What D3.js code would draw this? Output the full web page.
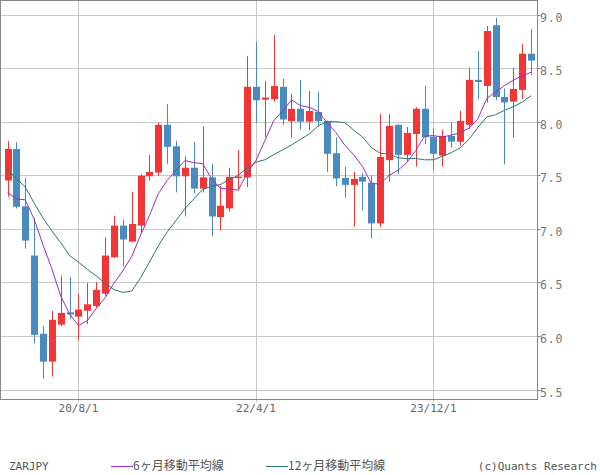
<!DOCTYPE html>
<html><head><meta charset="utf-8">
<script src="https://cdn.jsdelivr.net/npm/d3@7"></script>
<style>body{margin:0;background:#fff}svg{display:block}</style>
</head><body><svg id="c" width="600" height="475"></svg>
<script>
const months = ["19/12",
 "20/1","20/2","20/3","20/4","20/5","20/6","20/7","20/8","20/9","20/10","20/11","20/12",
 "21/1","21/2","21/3","21/4","21/5","21/6","21/7","21/8","21/9","21/10","21/11","21/12",
 "22/1","22/2","22/3","22/4","22/5","22/6","22/7","22/8","22/9","22/10","22/11","22/12",
 "23/1","23/2","23/3","23/4","23/5","23/6","23/7","23/8","23/9","23/10","23/11","23/12",
 "24/1","24/2","24/3","24/4","24/5","24/6","24/7","24/8","24/9","24/10","24/11"];
const openV = [7.45,7.745,7.21,6.75,6.02,5.76,6.105,6.22,6.18,6.235,6.28,6.395,
 6.735,7.03,6.88,7.03,7.49,7.525,7.97,7.77,7.49,7.57,7.375,7.48,
 7.11,7.19,7.475,7.48,8.325,8.205,8.21,8.325,8.005,8.12,8.00,8.09,
 8.005,7.705,7.475,7.41,7.485,7.43,7.05,7.64,7.97,7.69,7.885,8.12,
 7.86,7.683,7.867,7.813,7.97,8.39,8.333,8.90,8.23,8.187,8.296,8.634];
const highV = [7.82,7.81,7.475,7.10,6.09,6.235,6.565,6.55,6.39,6.495,6.50,6.92,
 7.12,7.085,7.345,7.51,7.69,7.99,8.165,7.82,7.675,7.81,7.955,7.605,
 7.40,7.57,7.735,8.61,8.745,8.38,8.81,8.40,8.26,8.39,8.285,8.28,
 8.01,7.855,7.58,7.53,7.52,7.50,8.07,8.07,7.975,7.95,8.135,8.333,
 7.94,7.923,7.99,8.10,8.50,8.66,8.893,8.97,8.31,8.50,8.725,8.865];
const lowV = [7.30,7.19,6.815,5.93,5.60,5.62,6.09,6.16,5.96,6.11,6.265,6.375,
 6.73,6.65,6.875,6.97,7.45,7.495,7.605,7.34,7.115,7.33,7.34,6.93,
 6.985,7.16,7.36,7.39,7.99,7.857,8.187,7.97,7.85,7.925,7.92,7.955,
 7.53,7.395,7.29,7.02,7.17,6.91,7.015,7.44,7.51,7.627,7.58,7.79,
 7.55,7.58,7.757,7.776,7.93,8.21,8.177,8.20,7.60,7.85,8.21,8.436];
const closeV = [7.745,7.205,6.89,6.01,5.76,6.15,6.215,6.20,6.245,6.295,6.43,6.75,
 7.03,6.90,7.045,7.495,7.53,7.97,7.765,7.49,7.57,7.375,7.48,7.115,
 7.215,7.485,7.487,8.325,8.20,8.225,8.333,8.02,8.12,8.00,8.10,8.005,
 7.70,7.47,7.41,7.465,7.44,7.05,7.67,7.96,7.69,7.895,8.12,7.855,
 7.70,7.867,7.813,8.007,8.39,8.37,8.846,8.23,8.18,8.305,8.634,8.57];
const ma6 = [7.34,7.28,7.27,7.09,6.85,6.627,6.372,6.204,6.097,6.144,6.256,6.356,
 6.492,6.608,6.742,6.942,7.125,7.328,7.451,7.549,7.637,7.617,7.608,7.466,
 7.374,7.373,7.360,7.518,7.638,7.823,8.009,8.098,8.204,8.150,8.133,8.096,
 7.991,7.899,7.781,7.692,7.582,7.423,7.418,7.499,7.546,7.618,7.731,7.865,
 7.870,7.855,7.875,7.894,7.939,8.025,8.216,8.276,8.337,8.387,8.428,8.461];
const ma12 = [7.555,7.47,7.39,7.24,7.10,6.98,6.87,6.75,6.69,6.62,6.56,6.491,
 6.432,6.406,6.419,6.543,6.690,6.842,6.971,7.079,7.189,7.279,7.367,7.397,
 7.413,7.461,7.498,7.567,7.623,7.644,7.692,7.736,7.782,7.834,7.885,7.960,
 8.000,7.999,7.992,7.921,7.857,7.759,7.704,7.699,7.663,7.655,7.656,7.644,
 7.644,7.677,7.710,7.756,7.835,7.945,8.043,8.065,8.106,8.140,8.183,8.243];
const yTicks = [5.5,6.0,6.5,7.0,7.5,8.0,8.5,9.0];
const xTickMonths = ["20/8","22/4","23/12"];
const xTickLabels = ["20/8/1","22/4/1","23/12/1"];
const seriesNames = ["6ヶ月移動平均線","12ヶ月移動平均線"];

const svg = d3.select("#c");
const L = 0.5, R = 537.5, T = 0.5, B = 399.5;
const x = d3.scalePoint().domain(months).range([7.5, 531.1]);
const y = d3.scaleLinear().domain([5.5, 9.0]).range([389.5, 14.5]);
const UP = "#f43535", DOWN = "#4a8bbf", C6 = "#a02ec0", C12 = "#2a7a72";
const mono = "'DejaVu Sans Mono', monospace";

// horizontal grid
const gy = svg.append("g");
gy.selectAll("line").data(yTicks).join("line")
  .attr("x1", L).attr("x2", R)
  .attr("y1", d => Math.round(y(d)) + 0.5).attr("y2", d => Math.round(y(d)) + 0.5)
  .attr("stroke", "#c8c8c8").attr("stroke-width", 1);
// vertical grid
const gx = svg.append("g");
gx.selectAll("line").data(xTickMonths).join("line")
  .attr("x1", d => Math.round(x(d)) + 0.5).attr("x2", d => Math.round(x(d)) + 0.5)
  .attr("y1", T).attr("y2", B + 3)
  .attr("stroke", "#c8c8c8").attr("stroke-width", 1);

// candles
const data = months.map((m, i) => ({m, o: openV[i], h: highV[i], l: lowV[i], c: closeV[i]}));
const cg = svg.append("g");
const cand = cg.selectAll("g").data(data).join("g");
cand.append("line")
  .attr("x1", d => Math.round(x(d.m)) + 0.5).attr("x2", d => Math.round(x(d.m)) + 0.5)
  .attr("y1", d => y(d.h)).attr("y2", d => y(d.l))
  .attr("stroke", d => d.c >= d.o ? UP : DOWN).attr("stroke-width", 1);
cand.append("rect")
  .attr("x", d => Math.round(x(d.m)) - 3).attr("width", 7)
  .attr("y", d => y(Math.max(d.o, d.c)))
  .attr("height", d => Math.max(1.5, Math.abs(y(d.o) - y(d.c))))
  .attr("fill", d => d.c >= d.o ? UP : DOWN);

// moving averages
const line = d3.line().x((d, i) => x(months[i])).y(d => y(d));
svg.append("path").datum(ma12).attr("d", line).attr("fill", "none")
  .attr("stroke", C12).attr("stroke-width", 1);
svg.append("path").datum(ma6).attr("d", line).attr("fill", "none")
  .attr("stroke", C6).attr("stroke-width", 1);

// frame
svg.append("rect").attr("x", L).attr("y", T).attr("width", R - L).attr("height", B - T)
  .attr("fill", "none").attr("stroke", "#888").attr("stroke-width", 1);

// right axis labels and ticks
const ra = svg.append("g");
ra.selectAll("line").data(yTicks).join("line")
  .attr("x1", R).attr("x2", R + 3)
  .attr("y1", d => Math.round(y(d)) + 0.5).attr("y2", d => Math.round(y(d)) + 0.5)
  .attr("stroke", "#888");
ra.selectAll("text").data(yTicks).join("text")
  .attr("x", 540).attr("y", d => y(d) + 3).attr("dy", "0.35em")
  .attr("font-family", mono).attr("font-size", 11.5).attr("fill", "#777")
  .attr("letter-spacing", "0.8")
  .text(d => d3.format(".1f")(d));

// bottom labels
svg.append("g").selectAll("text").data(xTickMonths).join("text")
  .attr("x", d => x(d)).attr("y", 408.5).attr("dy", "0.35em")
  .attr("text-anchor", "middle")
  .attr("font-family", mono).attr("font-size", 11).attr("fill", "#666")
  .text((d, i) => xTickLabels[i]);

// legend
const lg = svg.append("g").attr("font-size", 12).attr("fill", "#555");
lg.append("text").attr("x", 9).attr("y", 466).attr("dy", "0.35em")
  .attr("font-family", mono).attr("font-size", 11).text("ZARJPY");
lg.append("line").attr("x1", 111).attr("x2", 133).attr("y1", 466.5).attr("y2", 466.5)
  .attr("stroke", C6);
lg.append("text").attr("x", 133).attr("y", 466).attr("dy", "0.35em")
  .attr("font-family", "'Noto Sans CJK JP', sans-serif").text(seriesNames[0]);
lg.append("line").attr("x1", 266).attr("x2", 288).attr("y1", 466.5).attr("y2", 466.5)
  .attr("stroke", C12);
lg.append("text").attr("x", 288).attr("y", 466).attr("dy", "0.35em")
  .attr("font-family", "'Noto Sans CJK JP', sans-serif").text(seriesNames[1]);
lg.append("text").attr("x", 597).attr("y", 466).attr("dy", "0.35em")
  .attr("text-anchor", "end")
  .attr("font-family", mono).attr("font-size", 11).text("(c)Quants Research");
</script></body></html>
